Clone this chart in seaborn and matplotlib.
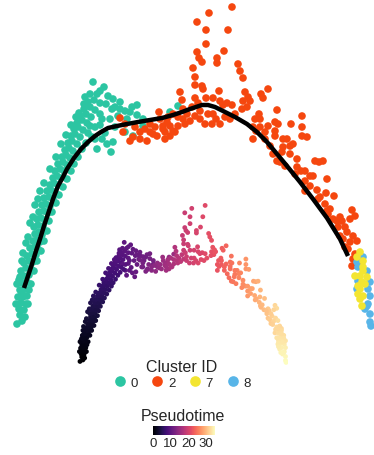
import numpy as np
import pandas as pd
import matplotlib
matplotlib.use("Agg")
import matplotlib.pyplot as plt
import seaborn as sns

# (UMAP_1, UMAP_2, pseudotime) per cell
cluster0 = [
    (2.2, 1.8, 0.0), (2.0, 2.4, 0.2), (2.5, 2.2, 0.1), (1.9, 3.0, 0.4), (2.4, 2.9, 0.4),
    (2.1, 3.6, 0.7), (2.6, 3.5, 0.7), (1.8, 4.2, 1.0), (2.3, 4.2, 1.0), (2.7, 4.3, 1.0),
    (2.0, 4.9, 1.3), (2.5, 5.0, 1.3), (2.9, 4.9, 1.3), (2.2, 5.6, 1.6), (2.7, 5.7, 1.6),
    (1.9, 5.9, 1.7), (2.4, 6.3, 1.9), (2.9, 6.4, 1.9), (2.1, 6.8, 2.1), (2.6, 7.1, 2.2),
    (3.1, 7.0, 2.2), (2.4, 7.6, 2.4), (2.9, 7.8, 2.5), (3.3, 7.7, 2.5), (2.7, 8.3, 2.7),
    (3.2, 8.5, 2.8), (3.6, 8.4, 2.8), (3.0, 9.1, 3.1), (3.5, 9.2, 3.1), (3.8, 9.0, 3.0),
    (3.3, 9.8, 3.4), (3.7, 9.9, 3.4), (4.0, 9.7, 3.3), (3.5, 10.5, 3.7), (3.9, 10.7, 3.8),
    (4.2, 10.4, 3.6), (3.4, 11.2, 4.0), (3.8, 11.4, 4.1), (4.3, 11.3, 4.0), (3.7, 12.0, 4.3),
    (4.1, 12.1, 4.4), (4.5, 11.9, 4.3), (3.9, 12.7, 4.6), (4.4, 12.8, 4.7), (4.8, 12.6, 4.6),
    (4.2, 13.4, 5.0), (4.6, 13.5, 5.0), (5.0, 13.3, 4.9), (4.4, 14.1, 5.3), (4.9, 14.2, 5.3),
    (5.3, 14.0, 5.2), (4.7, 14.8, 5.6), (5.1, 14.9, 5.6), (5.5, 14.7, 5.5), (5.0, 15.4, 5.8),
    (5.4, 15.6, 5.9), (5.8, 15.4, 5.8), (5.3, 16.1, 6.1), (5.7, 16.3, 6.2), (6.1, 16.1, 6.1),
    (5.5, 16.8, 6.4), (6.0, 17.0, 6.5), (6.4, 16.8, 6.4), (5.8, 17.5, 6.7), (6.3, 17.7, 6.8),
    (6.7, 17.4, 6.7), (6.2, 18.2, 7.0), (6.6, 18.4, 7.1), (7.0, 18.1, 7.0), (6.5, 18.9, 7.3),
    (6.9, 19.1, 7.4), (7.3, 18.8, 7.3), (6.8, 19.6, 7.6), (7.2, 19.8, 7.7), (7.7, 19.5, 7.6),
    (7.1, 20.3, 8.0), (7.5, 20.5, 8.1), (8.0, 20.2, 8.0), (7.4, 21.0, 8.3), (7.8, 21.2, 8.4),
    (8.3, 20.9, 8.3), (7.7, 21.6, 8.6), (8.2, 21.9, 8.7), (8.7, 21.6, 8.6), (8.0, 22.3, 8.9),
    (8.6, 22.5, 9.0), (9.1, 22.2, 9.0), (8.4, 23.0, 9.2), (9.0, 23.2, 9.3), (9.5, 22.9, 9.4),
    (8.8, 23.7, 9.5), (9.4, 23.9, 9.6), (10.0, 23.6, 9.8), (9.3, 25.7, 10.0), (10.4, 25.2, 10.2),
    (10.8, 24.3, 10.3), (7.9, 22.6, 9.0), (10.0, 21.4, 9.9), (10.5, 20.6, 10.1), (10.7, 19.5, 10.3),
    (11.3, 19.7, 10.6), (11.1, 18.7, 10.5), (9.7, 19.0, 9.9), (9.5, 20.0, 9.8), (9.0, 21.3, 9.5),
    (11.8, 22.3, 10.9), (12.0, 23.7, 11.0), (12.0, 23.0, 11.0), (13.0, 22.7, 11.5), (13.7, 23.4, 11.9),
    (13.7, 22.4, 11.9), (12.7, 22.0, 11.4), (12.5, 20.7, 11.3), (13.3, 20.3, 11.7), (14.3, 21.3, 12.2),
    (14.3, 22.0, 12.2), (13.2, 23.2, 11.6), (11.0, 22.0, 10.5), (11.5, 21.2, 10.8), (17.0, 22.7, 14.5),
    (17.8, 23.3, 15.0), (10.0, 22.5, 10.0), (9.7, 24.5, 9.9), (8.5, 24.2, 9.4), (11.3, 24.0, 10.6),
    (11.2, 23.0, 10.6), (10.2, 22.0, 10.1),
    (2.8, 3.5, 0.7), (3.1, 5.5, 1.5), (3.4, 6.8, 2.1), (3.7, 7.8, 2.5), (4.1, 8.8, 3.0),
    (4.4, 9.8, 3.4), (4.7, 10.8, 3.8), (4.9, 11.8, 4.3), (5.2, 12.7, 4.7), (5.6, 13.6, 5.1),
    (5.9, 14.4, 5.4), (6.3, 15.2, 5.7), (6.7, 16.0, 6.1), (7.1, 16.8, 6.4), (7.4, 17.5, 6.7),
    (7.8, 18.2, 7.0), (8.2, 19.0, 7.4), (8.6, 19.6, 7.7), (9.2, 20.2, 8.0), (8.8, 20.6, 8.2),
    (9.5, 21.2, 9.3), (10.2, 20.0, 10.0),
    (1.7, 1.5, 0.0), (1.6, 3.5, 0.7), (1.7, 5.5, 1.5), (2.2, 7.8, 2.5), (2.8, 10.2, 3.6),
    (3.3, 12.2, 4.4), (3.8, 14.0, 5.2), (4.4, 15.6, 5.9), (5.0, 17.0, 6.5), (5.6, 18.2, 7.0),
    (6.1, 19.5, 7.6), (6.6, 20.4, 8.0), (7.1, 21.4, 8.5), (7.6, 22.2, 8.9), (8.4, 23.5, 9.4),
    (9.0, 24.5, 9.7), (10.0, 24.8, 10.0), (10.6, 23.5, 10.2), (11.5, 23.2, 10.8), (12.5, 22.8, 11.3),
    (2.3, 8.6, 2.8), (2.6, 9.6, 3.2), (3.0, 11.6, 4.1), (3.5, 13.4, 4.9), (4.0, 14.8, 5.5),
    (2.2, 4.6, 1.1), (2.0, 6.2, 1.8),
]
cluster2 = [
    (12.0, 22.1, 11.8), (12.3, 20.7, 12.1), (13.0, 19.8, 12.7), (13.3, 20.2, 13.0), (14.7, 19.8, 14.2),
    (15.9, 22.7, 15.3), (15.3, 20.5, 14.8), (15.7, 20.3, 15.1), (16.3, 21.0, 15.7), (16.7, 21.7, 16.0),
    (17.0, 20.3, 16.3), (17.5, 20.7, 16.8), (17.8, 21.3, 17.0), (18.0, 24.7, 17.2), (18.2, 23.9, 17.4),
    (17.3, 22.5, 16.6), (18.7, 22.5, 17.8), (15.0, 20.7, 14.5), (16.8, 22.2, 16.1), (17.8, 22.2, 17.0),
    (16.3, 21.3, 15.7), (17.0, 21.3, 16.3), (17.3, 20.8, 16.6), (19.5, 22.3, 18.5), (20.8, 22.5, 19.7),
    (21.3, 22.5, 20.2), (21.2, 21.5, 20.1), (22.0, 21.5, 20.8), (21.6, 22.0, 20.4), (14.0, 20.0, 13.6),
    (14.5, 21.0, 14.0), (16.0, 22.0, 15.4), (18.5, 21.5, 17.6), (19.2, 23.2, 18.3), (16.5, 20.0, 15.9),
    (18.3, 23.0, 17.5),
    (12.5, 21.5, 12.2), (13.5, 21.2, 13.1), (14.0, 20.7, 13.6), (15.0, 21.5, 14.5), (15.5, 21.2, 14.9),
    (16.5, 20.7, 15.9), (18.3, 22.0, 17.5), (19.0, 21.8, 18.1), (20.0, 22.0, 19.0), (20.5, 21.5, 19.5),
    (22.5, 22.2, 21.0), (23.0, 22.0, 21.2),
    (23.2, 33.2, 21.2), (20.9, 32.6, 19.8), (19.7, 31.7, 19.1), (20.6, 30.9, 19.7), (22.8, 30.9, 21.0),
    (20.6, 29.5, 19.7), (19.7, 28.7, 19.1), (19.9, 28.1, 19.2), (20.2, 27.7, 19.4), (22.4, 28.8, 20.7),
    (21.7, 28.1, 20.3), (21.7, 27.6, 20.3), (23.8, 27.5, 21.6), (24.0, 26.8, 21.7), (19.3, 27.1, 18.9),
    (19.5, 26.2, 19.0), (24.3, 26.1, 21.9), (19.5, 25.4, 19.0), (20.2, 25.3, 19.4), (20.3, 25.0, 19.5),
    (21.9, 24.8, 20.4), (19.5, 24.1, 19.0), (19.8, 23.6, 19.2), (20.6, 24.1, 19.7), (21.3, 24.1, 20.1),
    (22.0, 23.8, 20.5), (22.7, 23.6, 20.9), (23.2, 23.4, 21.2), (24.3, 23.8, 21.9), (24.7, 23.2, 22.1),
    (24.2, 23.0, 21.8), (24.5, 24.7, 22.0), (24.8, 24.2, 22.2), (25.0, 23.8, 22.3), (22.3, 23.4, 20.7),
    (20.0, 22.8, 19.3), (23.5, 22.5, 21.4),
    (26.8, 25.0, 23.8), (26.1, 24.5, 23.1), (26.3, 24.1, 23.3), (27.7, 22.9, 24.7), (25.9, 22.5, 22.9),
    (26.0, 22.0, 23.0), (26.0, 21.2, 23.0), (25.3, 21.2, 22.3), (25.3, 20.0, 22.3), (26.8, 21.3, 23.8),
    (27.5, 21.7, 24.5), (27.8, 21.5, 24.8), (27.5, 20.8, 24.5), (27.5, 20.3, 24.5), (29.1, 21.5, 26.1),
    (30.2, 22.3, 27.2), (30.2, 21.2, 27.2), (30.2, 20.3, 27.2), (30.7, 20.2, 27.7), (29.7, 18.0, 26.7),
    (29.3, 19.5, 26.3), (29.0, 19.3, 26.0), (28.3, 19.2, 25.3), (28.2, 18.7, 25.2), (27.3, 18.5, 24.3),
    (27.7, 17.8, 24.7), (28.0, 17.7, 25.0), (31.5, 17.8, 28.5), (31.9, 17.7, 28.9), (32.3, 17.8, 29.3),
    (30.1, 16.8, 27.1), (30.5, 16.8, 27.5), (31.0, 16.3, 28.0), (31.3, 16.3, 28.3), (30.5, 15.8, 27.5),
    (32.7, 16.0, 29.7), (31.7, 14.9, 28.7), (32.6, 14.6, 29.6), (33.4, 14.3, 30.4), (30.5, 14.8, 27.5),
    (28.5, 17.3, 25.5), (32.5, 13.5, 29.5), (32.7, 12.8, 29.7), (32.8, 12.5, 29.8), (34.0, 12.2, 31.0),
    (35.2, 12.9, 32.2), (35.5, 12.3, 32.5), (35.0, 12.0, 32.0), (34.2, 11.8, 31.2), (33.8, 11.2, 30.8),
    (34.7, 10.7, 31.7), (35.3, 10.3, 32.3), (34.0, 10.3, 31.0), (34.3, 10.0, 31.3), (35.0, 9.7, 32.0),
    (35.7, 9.8, 32.7), (35.5, 8.5, 32.5), (35.3, 8.0, 32.3), (35.2, 7.3, 32.2), (36.2, 7.8, 33.2),
    (26.5, 20.0, 23.5), (27.0, 19.3, 24.0), (29.5, 16.5, 26.5), (31.8, 14.0, 28.8), (33.3, 12.0, 30.3),
    (34.5, 9.2, 31.5), (25.6, 20.8, 22.6), (28.7, 20.0, 25.7),
    (25.5, 22.0, 22.5), (26.5, 20.7, 23.5), (28.3, 20.0, 25.3), (29.0, 18.5, 26.0), (29.7, 17.2, 26.7),
    (31.0, 15.3, 28.0), (32.0, 14.2, 29.0), (33.0, 13.0, 30.0), (33.7, 11.8, 30.7), (34.5, 11.2, 31.5),
    (34.8, 9.0, 31.8),
]
cluster8 = [
    (35.8, 7.2, 32.7), (36.7, 6.8, 32.9), (36.8, 5.0, 33.6), (37.0, 4.3, 33.9), (36.8, 3.5, 34.2),
    (36.5, 3.0, 34.4), (37.0, 2.5, 34.6), (37.0, 1.7, 34.9), (37.1, 1.3, 35.1), (35.8, 5.8, 33.3),
    (35.7, 5.0, 33.6), (35.7, 7.7, 32.5), (36.3, 8.2, 32.3), (37.0, 5.7, 33.3), (36.7, 3.3, 34.3),
]
cluster7 = [
    (36.0, 8.7, 32.1), (36.3, 7.8, 32.5), (36.3, 6.8, 32.9), (36.0, 6.3, 33.1), (36.2, 5.7, 33.3),
    (36.0, 5.0, 33.6), (36.3, 4.3, 33.9), (36.0, 4.0, 34.0), (36.2, 3.3, 34.3), (35.5, 6.3, 33.1),
    (36.7, 6.2, 33.1), (36.3, 7.2, 32.7), (35.8, 5.3, 33.5), (35.8, 4.5, 33.8), (36.5, 5.5, 33.4),
    (35.7, 8.2, 32.3),
]

# principal curve through the cells
curve_x = [2.4, 2.8, 3.2, 3.6, 4.0, 4.4, 4.8, 5.3, 5.8, 6.3, 6.7, 7.4, 8.1, 8.8, 9.5, 10.1,
           10.8, 11.7, 12.7, 13.8, 15.0, 16.2, 17.3, 18.2, 19.0, 19.6, 20.2, 20.8, 21.5, 22.3,
           23.5, 24.7, 25.7, 26.7, 27.7, 28.7, 30.0, 31.3, 32.7, 34.0, 34.8]
curve_y = [5.1, 6.3, 7.5, 8.8, 10.0, 11.3, 12.5, 14.0, 15.3, 16.2, 17.0, 18.1, 19.0, 19.7, 20.3, 20.7,
           21.1, 21.3, 21.5, 21.7, 21.9, 22.1, 22.4, 22.7, 23.0, 23.2, 23.4, 23.4, 23.2, 22.8,
           22.2, 21.5, 20.7, 19.7, 18.5, 17.3, 15.7, 14.0, 12.1, 10.0, 8.3]

cluster_ids = ['0', '2', '8', '7']
cluster_colors = {'0': '#2CC5A2', '2': '#F5470F', '7': '#F3E531', '8': '#58B5E8'}
pt_ticks = [0, 10, 20, 30]

frames = []
for cid, pts in zip(cluster_ids, [cluster0, cluster2, cluster8, cluster7]):
    d = pd.DataFrame(pts, columns=['UMAP_1', 'UMAP_2', 'Pseudotime'])
    d['Cluster ID'] = cid
    frames.append(d)
df = pd.concat(frames, ignore_index=True)

sns.set_theme(style='white')
plt.rcParams['font.family'] = ['Liberation Sans', 'DejaVu Sans']

W, H = 374, 456
fig = plt.figure(figsize=(W / 100, H / 100), dpi=100)

# main embedding coloured by cluster
ax = fig.add_axes([0, 1 - 340 / H, 1, 340 / H])
sns.scatterplot(data=df, x='UMAP_1', y='UMAP_2', hue='Cluster ID',
                hue_order=['0', '2', '7', '8'], palette=cluster_colors,
                s=30, linewidth=0, ax=ax)
ax.plot(curve_x, curve_y, color='black', lw=3.2, zorder=5,
        solid_joinstyle='round', solid_capstyle='butt')
ax.set_xlim(0, 37.4)
ax.set_ylim(0, 34.0)
ax.set_axis_off()

sns.move_legend(ax, 'center', bbox_to_anchor=(182 / W, 1 - 375 / H),
                bbox_transform=fig.transFigure, ncol=4, frameon=False,
                title='Cluster ID', title_fontsize=11.5, fontsize=9.5,
                markerscale=1.4, handletextpad=0.3, columnspacing=1.0,
                handlelength=1.0, borderpad=0, labelspacing=0.2)

# smaller copy coloured by pseudotime
pt_max = df['Pseudotime'].max()
ax_in = fig.add_axes([70.1 / W, 1 - 369.8 / H, 217.7 / W, 167.3 / H])
sns.scatterplot(data=df, x='UMAP_1', y='UMAP_2', hue='Pseudotime', palette='magma',
                hue_norm=(0, pt_max), s=12, linewidth=0, legend=False, ax=ax_in)
ax_in.set_xlim(0, 37.4)
ax_in.set_ylim(0, 34.0)
ax_in.set_axis_off()

# pseudotime colourbar
cax = fig.add_axes([153 / W, 1 - 436 / H, 62 / W, 9 / H])
sm = plt.cm.ScalarMappable(cmap='magma', norm=plt.Normalize(0, pt_max))
cb = fig.colorbar(sm, cax=cax, orientation='horizontal', ticks=pt_ticks)
cb.outline.set_visible(False)
cax.tick_params(axis='x', direction='in', length=2, width=0.6, color='white',
                labelsize=9.5, pad=1.5)
fig.text(183 / W, 1 - 417 / H, 'Pseudotime', ha='center', va='center', fontsize=11.5)

fig.savefig('out.png', dpi=100)
